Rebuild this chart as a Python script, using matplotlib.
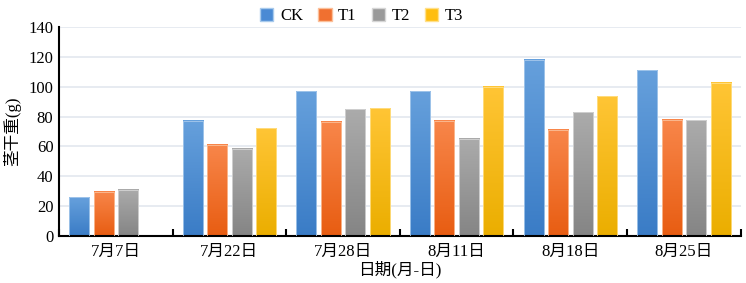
import numpy as np
import matplotlib
matplotlib.use("Agg")
from matplotlib import pyplot as plt
from matplotlib.colors import LinearSegmentedColormap
from matplotlib.patches import Patch

dates = ["7月7日", "7月22日", "7月28日", "8月11日", "8月18日", "8月25日"]
series = ["CK", "T1", "T2", "T3"]
ck = [26, 77, 97, 97, 118, 111]
t1 = [29.5, 61, 76.5, 77, 71, 78]
t2 = [31, 58.5, 85, 65, 83, 77.5]
t3 = [np.nan, 72, 85.5, 100, 93.5, 102.5]

# (top colour, bottom colour, legend colour, edge)
styles = [
    ("#66A0DC", "#3A7CC6", "#4A8AD4", "#A8CAEC"),
    ("#F8864A", "#E85D12", "#F07030", "#FBC09A"),
    ("#ABABAB", "#858585", "#9A9A9A", "#D6D6D6"),
    ("#FFC535", "#EBAE00", "#FFBE10", "#FFE08A"),
]

serif = ["Liberation Serif", "Noto Sans CJK SC"]
plt.rcParams["font.family"] = serif

fig = plt.figure(figsize=(7.46, 2.83), dpi=100)
ax = fig.add_axes([0.079, 0.166, 0.914, 0.739])

x = np.arange(len(dates))
width = 0.176
pitch = 0.215
grad = np.linspace(1, 0, 100).reshape(-1, 1)

for i, vals in enumerate([ck, t1, t2, t3]):
    top, bottom, _, edge = styles[i]
    cmap = LinearSegmentedColormap.from_list(series[i], [bottom, top])
    off = (i - 1.5) * pitch
    for xi, v in zip(x, vals):
        if np.isnan(v):
            continue
        x0 = xi + off - width / 2
        ax.imshow(grad, cmap=cmap, extent=[x0, x0 + width, 0, v],
                  aspect="auto", zorder=2, vmin=0, vmax=1)
        ax.bar(xi + off, v, width, facecolor="none", edgecolor=edge,
               linewidth=0.6, zorder=3)

ax.set_xlim(-0.5, len(dates) - 0.5)
ax.set_ylim(0, 140)
ax.set_yticks(np.arange(0, 141, 20))
ax.yaxis.grid(True, color="#E3E8EF", linewidth=1.2, zorder=0)
ax.set_axisbelow(True)

ax.set_xticks(x)
ax.set_xticklabels(dates, fontsize=12)
ax.set_xticks(np.arange(-0.5, len(dates)), minor=True)
ax.tick_params(axis="x", which="major", length=0, pad=6)
ax.tick_params(axis="x", which="minor", direction="in", length=5, width=1.5, color="black")
ax.tick_params(axis="y", length=0, labelsize=12, pad=4)

for s in ["top", "right"]:
    ax.spines[s].set_visible(False)
ax.spines["left"].set_linewidth(1.5)
ax.spines["bottom"].set_linewidth(1.5)

ax.set_xlabel("日期(月-日)", fontsize=12, labelpad=0)
ax.set_ylabel("茎干重(g)", fontsize=12, labelpad=5)

handles = [Patch(facecolor=s[2], edgecolor=s[3]) for s in styles]
fig.legend(handles, series, loc="upper center", bbox_to_anchor=(0.485, 1.025), ncol=4,
           frameon=False, fontsize=12, handlelength=0.8, handleheight=0.8,
           handletextpad=0.4, columnspacing=0.9)

plt.savefig("out.png", dpi=100)
